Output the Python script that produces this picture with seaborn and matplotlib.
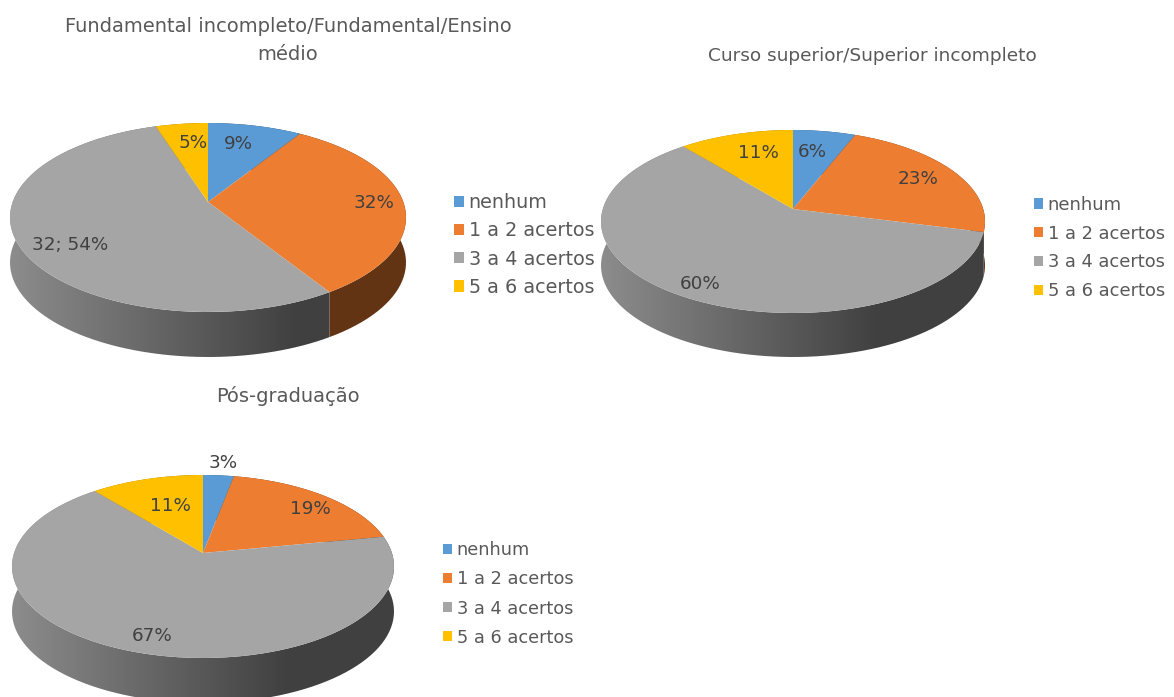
import numpy as np
import matplotlib
matplotlib.use("Agg")
import matplotlib.pyplot as plt
import seaborn as sns
from matplotlib.path import Path
from matplotlib.patches import PathPatch, Patch
from matplotlib.transforms import Transform

W, H = 1174, 697
categories = ["nenhum", "1 a 2 acertos", "3 a 4 acertos", "5 a 6 acertos"]
colors = ["#5B9BD5", "#ED7D31", "#A5A5A5", "#FFC000"]

values_a = [9, 32, 54, 5]
values_b = [6, 23, 60, 11]
values_c = [3, 19, 67, 11]
labels_a = ["9%", "32%", "32; 54%", "5%"]
labels_b = ["6%", "23%", "60%", "11%"]
labels_c = ["3%", "19%", "67%", "11%"]

sns.set_theme(style="white")
plt.rcParams["font.family"] = ["DejaVu Sans"]


class Perspective(Transform):
    input_dims = output_dims = 2
    is_affine = False

    def __init__(self, b, a, k):
        super().__init__()
        self.b, self.a, self.k = b, a, k

    def transform_non_affine(self, v):
        v = np.asarray(v, float)
        d = 1 + self.k * v[:, 1]
        return np.column_stack([self.b * v[:, 0] / d, self.a * v[:, 1] / d])


def draw_pie(fig, values, texts, cx, cy, rx, up, down, depth, label_xy, legend_xy, legend_fs, legend_sp):
    # axes in pixel units relative to the pie's apex
    xl, xr, yb, yt = -rx - 8, rx + 8, -down - depth - 6, up + 6
    ax = fig.add_axes([(cx + xl) / W, 1 - (cy - yb) / H, (xr - xl) / W, (yt - yb) / H])
    k = (down - up) / (down + up)
    a = up * (1 + k)
    b = rx * np.sqrt(1 - k ** 2)
    proj = Perspective(b, a, k)

    wedges, _ = ax.pie(values, colors=colors, startangle=90, counterclock=False,
                       wedgeprops=dict(linewidth=0))
    ax.set_aspect("auto")
    ax.set_xlim(xl, xr)
    ax.set_ylim(yb, yt)
    ax.set_axis_off()
    for w in wedges:
        w.set_transform(proj + ax.transData)
        w.set_zorder(3)

    total = sum(values)
    edges = np.cumsum([0] + list(values)) / total
    xs = np.linspace(0, 1, 400)
    shade = np.interp(xs, [0, 0.72, 1], [0.85, 0.39, 0.39])
    for i, col in enumerate(colors):
        t = np.linspace(edges[i], edges[i + 1], 100)
        th = np.pi / 2 - 2 * np.pi * t
        pts = proj.transform_non_affine(np.column_stack([np.cos(th), np.sin(th)]))
        low = pts - [0, depth]
        poly = np.vstack([pts, low[::-1], pts[:1]])
        patch = PathPatch(Path(poly), transform=ax.transData, fc="none", ec="none")
        ax.add_patch(patch)
        rgb = np.array(matplotlib.colors.to_rgb(col))
        f = shade * (1.08 if i == 1 else 1.0)
        img = np.clip(f[None, :, None] * rgb[None, None, :], 0, 1)
        im = ax.imshow(img, extent=[-rx, rx, yb, yt], aspect="auto", zorder=1,
                       interpolation="bilinear")
        im.set_clip_path(patch)
    ax.set_xlim(xl, xr)
    ax.set_ylim(yb, yt)

    for txt, (px, py) in zip(texts, label_xy):
        ax.text(px - cx, cy - py, txt, ha="center", va="center", fontsize=13.2,
                color="#404040", zorder=5)

    handles = [Patch(facecolor=c, edgecolor="none") for c in colors]
    fig.legend(handles, categories, loc="center left", frameon=False,
               bbox_to_anchor=(legend_xy[0] / W, 1 - legend_xy[1] / H),
               fontsize=legend_fs, labelcolor="#595959", handlelength=0.52, handleheight=0.52,
               handletextpad=0.24, labelspacing=legend_sp, borderpad=0, borderaxespad=0)


fig = plt.figure(figsize=(W / 100, H / 100), dpi=100, facecolor="white")

draw_pie(fig, values_a, labels_a, 208, 202, 198, 79, 110, 45,
         [(238, 144), (374, 203), (70, 245), (193, 143)], (454, 245), 13.8, 0.48)
draw_pie(fig, values_b, labels_b, 793, 209, 192, 79, 104, 44,
         [(812, 152), (918, 179), (700, 284), (758, 153)], (1034, 248), 12.9, 0.6)
draw_pie(fig, values_c, labels_c, 203, 553, 191, 78, 105, 45,
         [(223, 463), (310, 509), (152, 636), (170, 506)], (443, 594), 12.8, 0.62)

title_kw = dict(ha="center", va="center", color="#595959")
fig.text(288 / W, 1 - 27 / H, "Fundamental incompleto/Fundamental/Ensino", fontsize=14, **title_kw)
fig.text(288 / W, 1 - 55 / H, "médio", fontsize=14, **title_kw)
fig.text(872 / W, 1 - 56 / H, "Curso superior/Superior incompleto", fontsize=13.3, **title_kw)
fig.text(288 / W, 1 - 396 / H, "Pós-graduação", fontsize=14, **title_kw)

fig.savefig("out.png", dpi=100, facecolor="white")
